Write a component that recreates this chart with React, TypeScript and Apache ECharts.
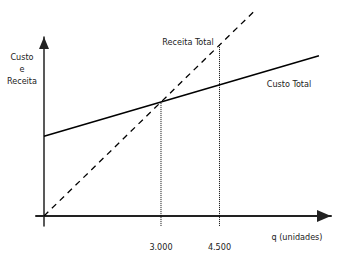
import React, { useEffect, useRef } from "react";
import * as echarts from "echarts";

const custoTotal: [number, number][] = [[0, 2100], [7050, 4220]];
const receitaTotal: [number, number][] = [[0, 0], [5400, 5400]];
const guide3000: [number, number][] = [[3000, -260], [3000, 3000]];
const guide4500: [number, number][] = [[4500, -260], [4500, 4500]];
const xTicks = [3000, 4500];
const xTickLabels: Record<number, string> = { 3000: "3.000", 4500: "4.500" };

const FONT = '"Liberation Sans Narrow", "DejaVu Sans Condensed", sans-serif';
const FS = 9;

export default function App() {
  const ref = useRef<HTMLDivElement>(null);
  useEffect(() => {
    if (!ref.current) return;
    const chart = echarts.init(ref.current, null, { renderer: "svg" });
    const textStyle = (t: string) => ({ text: t, font: `${FS}px ${FONT}`, fill: "#222" });
    chart.setOption({
      animation: false,
      backgroundColor: "#fff",
      grid: { left: 36, right: 8, top: 37, bottom: 35 },
      xAxis: {
        type: "value",
        min: -205,
        max: 7359,
        splitLine: { show: false },
        axisTick: { show: false },
        axisLine: {
          onZero: true,
          symbol: ["none", "triangle"],
          symbolSize: [12, 14],
          symbolOffset: [0, -7],
          lineStyle: { color: "#222", width: 2 },
        },
        axisLabel: {
          customValues: xTicks,
          formatter: (v: number) => xTickLabels[v] ?? "",
          margin: 16,
          fontFamily: FONT,
          fontSize: FS,
          color: "#222",
        },
      },
      yAxis: {
        type: "value",
        min: -263,
        max: 4711,
        splitLine: { show: false },
        axisTick: { show: false },
        axisLabel: { show: false },
        axisLine: {
          onZero: true,
          symbol: ["none", "triangle"],
          symbolSize: [10, 12],
          symbolOffset: [0, -6],
          lineStyle: { color: "#222", width: 1.5 },
        },
      },
      series: [
        {
          type: "line",
          data: custoTotal,
          symbol: "none",
          clip: false,
          lineStyle: { color: "#000", width: 1.5 },
        },
        {
          type: "line",
          data: receitaTotal,
          symbol: "none",
          clip: false,
          lineStyle: { color: "#000", width: 1.3, type: [6, 5] },
        },
        {
          type: "line",
          data: guide3000,
          symbol: "none",
          clip: false,
          lineStyle: { color: "#000", width: 1, type: [1, 1] },
        },
        {
          type: "line",
          data: guide4500,
          symbol: "none",
          clip: false,
          lineStyle: { color: "#000", width: 1, type: [1, 1] },
        },
      ],
      graphic: [
        { type: "text", x: 22, y: 57, style: { ...textStyle("Custo"), align: "center", verticalAlign: "middle" } },
        { type: "text", x: 22, y: 69, style: { ...textStyle("e"), align: "center", verticalAlign: "middle" } },
        { type: "text", x: 22, y: 81, style: { ...textStyle("Receita"), align: "center", verticalAlign: "middle" } },
        { type: "text", x: 188, y: 42, style: { ...textStyle("Receita Total"), align: "center", verticalAlign: "middle" } },
        { type: "text", x: 289, y: 84, style: { ...textStyle("Custo Total"), align: "center", verticalAlign: "middle" } },
        { type: "text", x: 297, y: 237, style: { ...textStyle("q (unidades)"), align: "center", verticalAlign: "middle" } },
      ],
    });
    return () => chart.dispose();
  }, []);
  return (
    <div
      ref={ref}
      style={{ position: "fixed", left: 0, top: 0, width: 339, height: 261 }}
    />
  );
}
